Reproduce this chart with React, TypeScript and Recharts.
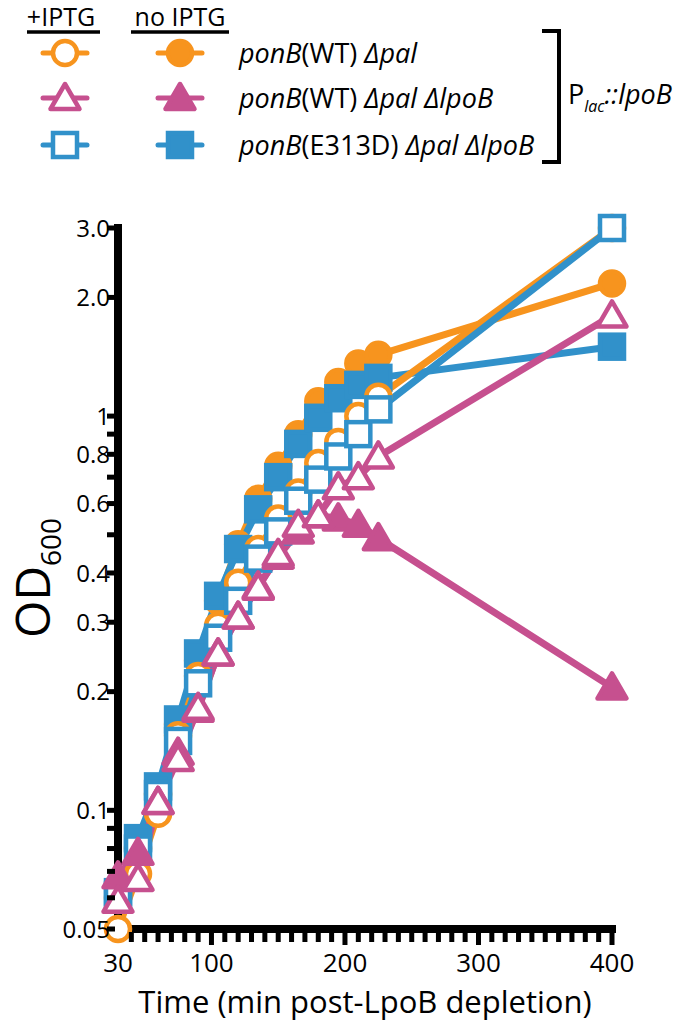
import { LineChart, Line, XAxis, YAxis } from 'recharts'

// sampling times (min post-LpoB depletion)
const times = [30, 45, 60, 75, 90, 105, 120, 135, 150, 165, 180, 195, 210, 225, 400]

// OD600 readings per strain / condition
const wtPalIptg = [0.05, 0.069, 0.098, 0.155, 0.219, 0.294, 0.378, 0.46, 0.55, 0.64, 0.76, 0.86, 1.0, 1.12, 3.0]
const wtPalNo = [0.06, 0.08, 0.11, 0.165, 0.24, 0.34, 0.473, 0.617, 0.748, 0.9, 1.09, 1.22, 1.36, 1.43, 2.17]
const lpoBIptg = [0.059, 0.067, 0.105, 0.135, 0.182, 0.25, 0.31, 0.367, 0.447, 0.53, 0.56, 0.66, 0.7, 0.79, 1.8]
const lpoBNo = [0.068, 0.078, 0.105, 0.14, 0.18, 0.25, 0.31, 0.37, 0.44, 0.51, 0.56, 0.55, 0.53, 0.49, 0.205]
const e313dIptg = [0.061, 0.08, 0.11, 0.15, 0.21, 0.274, 0.34, 0.435, 0.51, 0.61, 0.69, 0.79, 0.9, 1.04, 3.0]
const e313dNo = [0.062, 0.085, 0.115, 0.17, 0.25, 0.35, 0.46, 0.58, 0.7, 0.85, 0.99, 1.11, 1.2, 1.25, 1.5]

const xTickLabels = [30, 100, 200, 300, 400]
const yTicks = [0.05, 0.06, 0.07, 0.08, 0.09, 0.1, 0.2, 0.3, 0.4, 0.5, 0.6, 0.7, 0.8, 0.9, 1, 2, 3]
const yTickLabels = ['0.05', '', '', '', '', '0.1', '0.2', '0.3', '0.4', '', '0.6', '', '0.8', '', '1', '2.0', '3.0']

const legendRows = ['ponB(WT) Δpal', 'ponB(WT) Δpal ΔlpoB', 'ponB(E313D) Δpal ΔlpoB']

const ORANGE = '#F7941E'
const PINK = '#C6508F'
const BLUE = '#3191CA'
const FONT = "'Open Sans', sans-serif"

const W = 677
const H = 1025
const PLOT_LEFT = 118
const PLOT_RIGHT = 612
const PLOT_TOP = 228
const PLOT_BOTTOM = 929

const data = times.map((t, i) => ({
  t,
  wtPalIptg: wtPalIptg[i],
  wtPalNo: wtPalNo[i],
  lpoBIptg: lpoBIptg[i],
  lpoBNo: lpoBNo[i],
  e313dIptg: e313dIptg[i],
  e313dNo: e313dNo[i],
}))

// minor ticks every 10 min along x
const xTicks: number[] = []
for (let v = 30; v <= 400; v += 10) xTicks.push(v)

type Shape = 'circle' | 'triangle' | 'square'

const Marker = ({ cx, cy, shape, color, filled }: { cx: number; cy: number; shape: Shape; color: string; filled: boolean }) => {
  const fill = filled ? color : '#fff'
  if (shape === 'circle') return <circle cx={cx} cy={cy} r={12} fill={fill} stroke={color} strokeWidth={4.5} />
  if (shape === 'square') return <rect x={cx - 12} y={cy - 12} width={24} height={24} fill={fill} stroke={color} strokeWidth={4.5} />
  return (
    <polygon
      points={`${cx},${cy - 14} ${cx + 14.5},${cy + 11} ${cx - 14.5},${cy + 11}`}
      fill={fill}
      stroke={color}
      strokeWidth={4.5}
      strokeLinejoin="round"
    />
  )
}

const series: { key: string; shape: Shape; color: string; filled: boolean }[] = [
  { key: 'wtPalNo', shape: 'circle', color: ORANGE, filled: true },
  { key: 'e313dNo', shape: 'square', color: BLUE, filled: true },
  { key: 'wtPalIptg', shape: 'circle', color: ORANGE, filled: false },
  { key: 'e313dIptg', shape: 'square', color: BLUE, filled: false },
  { key: 'lpoBNo', shape: 'triangle', color: PINK, filled: true },
  { key: 'lpoBIptg', shape: 'triangle', color: PINK, filled: false },
]

const XTick = (props: any) => {
  const { x, payload } = props
  const v = payload.value
  const labelled = xTickLabels.includes(v)
  const major = v % 100 === 0
  return (
    <g>
      {v > 30 && <rect x={x - 2.5} y={PLOT_BOTTOM + 3} width={5} height={major ? 13 : 10} fill="#000" />}
      {labelled && (
        <text x={x} y={PLOT_BOTTOM + 43} textAnchor="middle" fontSize={26} fontFamily={FONT} fill="#000">
          {v}
        </text>
      )}
    </g>
  )
}

const YTick = (props: any) => {
  const { y, payload } = props
  const label = yTickLabels[yTicks.indexOf(payload.value)]
  return (
    <g>
      <rect x={PLOT_LEFT - 11} y={y - 2.5} width={8} height={5} fill="#000" />
      {label && (
        <text x={PLOT_LEFT - 8} y={y} dy="0.36em" textAnchor="end" fontSize={24} fontFamily={FONT} fill="#000">
          {label}
        </text>
      )}
    </g>
  )
}

const LegendRow = ({ y, text }: { y: number; text: string }) => {
  // italic gene names, upright allele labels
  const parts = text.split(/(\(.*?\))/)
  return (
    <text x={239} y={y + 10} fontSize={27} fontFamily={FONT} fill="#000">
      {parts.map((p, i) =>
        p.startsWith('(') ? <tspan key={i}>{p}</tspan> : <tspan key={i} fontStyle="italic">{p}</tspan>
      )}
    </text>
  )
}

const ChartLegend = () => {
  const rowsY = [53, 98, 145]
  const shapes: Shape[] = ['circle', 'triangle', 'square']
  const colors = [ORANGE, PINK, BLUE]
  return (
    <svg width={W} height={175} style={{ position: 'absolute', left: 0, top: 0 }}>
      <text x={61} y={26} textAnchor="middle" fontSize={25} fontFamily={FONT}>+IPTG</text>
      <line x1={27} x2={100} y1={32} y2={32} stroke="#000" strokeWidth={3.5} />
      <text x={180} y={26} textAnchor="middle" fontSize={25} fontFamily={FONT}>no IPTG</text>
      <line x1={131} x2={229} y1={32} y2={32} stroke="#000" strokeWidth={3.5} />
      {rowsY.map((ry, i) => (
        <g key={i}>
          {[65, 180].map((cx, j) => (
            <g key={j}>
              <line x1={cx - 22} x2={cx + 22} y1={ry} y2={ry} stroke={colors[i]} strokeWidth={5} strokeLinecap="round" />
              <Marker cx={cx} cy={ry} shape={shapes[i]} color={colors[i]} filled={j === 1} />
            </g>
          ))}
          <LegendRow y={ry} text={legendRows[i]} />
        </g>
      ))}
      <path d="M542 31 H559 V162 H542" fill="none" stroke="#000" strokeWidth={4} />
      <text x={568} y={104} fontSize={27} fontFamily={FONT} fill="#000">
        P<tspan fontSize={16} fontStyle="italic" dy={8}>lac</tspan>
        <tspan fontStyle="italic" dy={-8}>::lpoB</tspan>
      </text>
    </svg>
  )
}

const App = () => {
  return (
    <div style={{ position: 'absolute', left: 0, top: 0, width: W, height: H, background: '#fff' }}>
      <LineChart
        width={W}
        height={H}
        data={data}
        margin={{ top: PLOT_TOP, right: W - PLOT_RIGHT, bottom: 0, left: 0 }}
      >
        <XAxis
          type="number"
          dataKey="t"
          domain={[30, 400]}
          ticks={xTicks}
          interval={0}
          tick={<XTick />}
          tickLine={false}
          height={H - PLOT_BOTTOM}
          axisLine={{ stroke: '#000', strokeWidth: 8, strokeLinecap: 'square' }}
          label={{
            value: 'Time (min post-LpoB depletion)',
            position: 'insideBottom',
            offset: 12,
            fontSize: 31,
            fontFamily: FONT,
            fill: '#000',
          }}
        />
        <YAxis
          type="number"
          scale="log"
          domain={[0.05, 3]}
          ticks={yTicks}
          interval={0}
          tick={<YTick />}
          tickLine={false}
          width={PLOT_LEFT}
          axisLine={{ stroke: '#000', strokeWidth: 8, strokeLinecap: 'square' }}
          label={{
            content: () => (
              <text transform="rotate(-90, 50, 578)" x={50} y={578} textAnchor="middle" fontSize={48} fontFamily={FONT} fill="#000">
                OD<tspan fontSize={28} dy={11}>600</tspan>
              </text>
            ),
          }}
        />
        {series.map(s => (
          <Line
            key={s.key}
            dataKey={s.key}
            type="linear"
            stroke={s.color}
            strokeWidth={7}
            isAnimationActive={false}
            activeDot={false}
            dot={(p: any) => (
              <Marker key={`${s.key}-${p.index}`} cx={p.cx} cy={p.cy} shape={s.shape} color={s.color} filled={s.filled} />
            )}
          />
        ))}
      </LineChart>
      <ChartLegend />
    </div>
  )
}

export default App
